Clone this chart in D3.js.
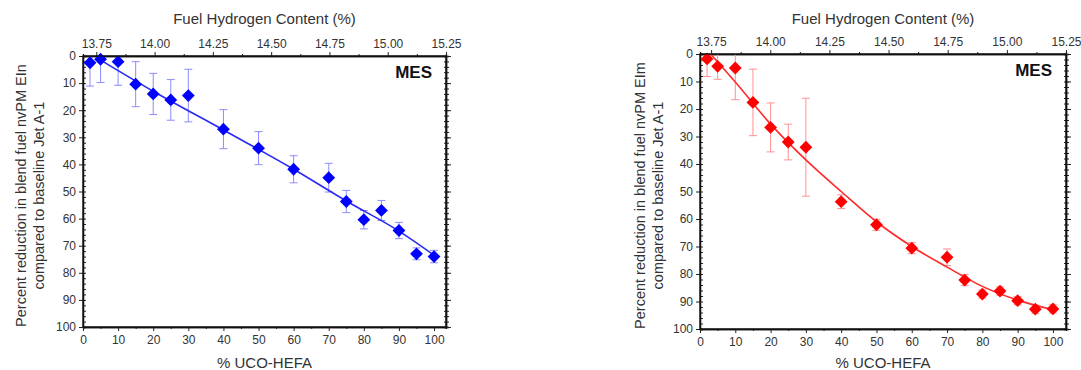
<!DOCTYPE html>
<html>
<head>
<meta charset="utf-8">
<script src="https://cdn.jsdelivr.net/npm/d3@7"></script>
<style>
  body { margin: 0; background: #fff; }
  svg text { font-family: "Liberation Sans", Arial, sans-serif; }
</style>
</head>
<body>
<div id="vis"></div>
<script>
// blend levels (% UCO-HEFA) shared by both panels
var blendPct = [2, 5, 10, 15, 20, 25, 30, 40, 50, 60, 70, 75, 80, 85, 90, 95, 100];

// left panel: number based EI (blue)
var einReduction = [2.5, 1.2, 2.1, 10.4, 14, 16.2, 14.6, 27, 34, 41.8, 44.9, 53.7, 60.4, 57, 64.4, 73, 74];
var einError = [8.6, 8.6, 8.7, 8.3, 7.6, 7.5, 9.7, 7.2, 6.1, 5, 5.3, 4.1, 3.4, 3.7, 3, 2.2, 2.3];
var einFitX = [5, 20, 40, 60, 75, 90, 100];
var einFitY = [1.5, 13, 27.3, 41.8, 53.5, 64.6, 73.5];

// right panel: mass based EI (red)
var emReduction = [1.8, 4.5, 5.1, 17.6, 26.7, 32, 33.9, 53.7, 62.1, 70.6, 73.9, 82.2, 87.3, 86.2, 89.7, 92.8, 92.7];
var emError = [6.4, 4.7, 11.5, 12.1, 8.9, 6.5, 17.8, 2.5, 2, 2, 3, 2, 1.5, 1.5, 1.5, 1.5, 1.5];
var emFitX = [3, 10, 20, 30, 40, 50, 60, 70, 80, 90, 100];
var emFitY = [0, 10.2, 25.5, 38.5, 50, 61, 70, 77.5, 84.5, 89.5, 93];

var xTicks = [0, 10, 20, 30, 40, 50, 60, 70, 80, 90, 100];
var yTicks = [0, 10, 20, 30, 40, 50, 60, 70, 80, 90, 100];
var hTicks = [13.75, 14.00, 14.25, 14.50, 14.75, 15.00, 15.25];

var panels = [
  {left: 83, right: 446, top: 56, bottom: 327, xMax: 103.4, hMin: 13.693,
   y: einReduction, err: einError, fitX: einFitX, fitY: einFitY,
   color: '#0000ff', lineColor: '#2a2af5', errColor: '#8c8cff',
   yTitle: ['Percent reduction in blend fuel nvPM EIn', 'compared to baseline Jet A-1'],
   titleX: [20, 38]},
  {left: 700, right: 1066, top: 54, bottom: 329, xMax: 103.7, hMin: 13.703,
   y: emReduction, err: emError, fitX: emFitX, fitY: emFitY,
   color: '#ff0000', lineColor: '#ff2a2a', errColor: '#ff9090',
   yTitle: ['Percent reduction in blend fuel nvPM EIm', 'compared to baseline Jet A-1'],
   titleX: [639, 657]}
];

var svg = d3.select('#vis').append('svg')
    .attr('width', 1081)
    .attr('height', 370);

panels.forEach(function(p, i) {
  var x = d3.scaleLinear().domain([0, p.xMax]).range([p.left, p.right]);
  var h = d3.scaleLinear().domain([p.hMin, 15.25]).range([p.left, p.right]);
  var y = d3.scaleLinear().domain([0, 100]).range([p.top, p.bottom]);

  var g = svg.append('g');

  g.append('clipPath').attr('id', 'clip' + i)
    .append('rect')
      .attr('x', p.left).attr('y', p.top)
      .attr('width', p.right - p.left).attr('height', p.bottom - p.top);

  // minor ticks
  g.append('g')
      .attr('transform', 'translate(' + p.left + ',0)')
      .call(d3.axisRight(y).ticks(50).tickSize(3).tickFormat(''));
  g.append('g')
      .attr('transform', 'translate(' + p.right + ',0)')
      .call(d3.axisRight(y).ticks(50).tickSize(3).tickFormat(''));
  g.append('g')
      .attr('transform', 'translate(' + p.right + ',0)')
      .call(d3.axisLeft(y).ticks(50).tickSize(2).tickFormat(''));
  g.append('g')
      .attr('transform', 'translate(0,' + p.bottom + ')')
      .call(d3.axisBottom(x).tickValues(d3.range(5, 101, 10)).tickSize(2).tickFormat(''));
  g.append('g')
      .attr('transform', 'translate(0,' + p.top + ')')
      .call(d3.axisTop(h).tickValues(d3.range(13.875, 15.2, 0.25)).tickSize(2).tickFormat(''));

  // major axes
  g.append('g')
      .attr('transform', 'translate(' + p.left + ',0)')
      .call(d3.axisLeft(y).tickValues(yTicks).tickSize(4).tickSizeOuter(0).tickPadding(3));
  g.append('g')
      .attr('transform', 'translate(0,' + p.bottom + ')')
      .call(d3.axisBottom(x).tickValues(xTicks).tickSize(4).tickSizeOuter(0).tickPadding(4));
  g.append('g')
      .attr('transform', 'translate(0,' + p.top + ')')
      .call(d3.axisTop(h).tickValues(hTicks).tickFormat(d3.format('.2f')).tickSize(4).tickSizeOuter(0).tickPadding(4));
  g.append('g')
      .attr('transform', 'translate(' + p.right + ',0)')
      .call(d3.axisRight(y).tickValues(yTicks).tickSize(5).tickSizeOuter(0).tickFormat(''));

  g.selectAll('.domain').attr('stroke', '#111').attr('stroke-width', 1.3);
  g.selectAll('.tick line').attr('stroke', '#222');
  g.selectAll('.tick text').attr('fill', '#333').attr('font-size', 12);

  // error bars
  var eb = g.append('g').attr('clip-path', 'url(#clip' + i + ')')
      .attr('stroke', p.errColor).attr('stroke-width', 1);
  blendPct.forEach(function(b, k) {
    var cx = x(b), lo = y(p.y[k] - p.err[k]), hi = y(p.y[k] + p.err[k]);
    eb.append('line').attr('x1', cx).attr('x2', cx).attr('y1', lo).attr('y2', hi);
    eb.append('line').attr('x1', cx - 4).attr('x2', cx + 4).attr('y1', lo).attr('y2', lo);
    eb.append('line').attr('x1', cx - 4).attr('x2', cx + 4).attr('y1', hi).attr('y2', hi);
  });

  // fit curve
  g.append('path')
      .datum(p.fitX.map(function(v, k) { return [v, p.fitY[k]]; }))
      .attr('fill', 'none')
      .attr('stroke', p.lineColor)
      .attr('stroke-width', 1.6)
      .attr('d', d3.line()
          .x(function(d) { return x(d[0]); })
          .y(function(d) { return y(d[1]); })
          .curve(d3.curveMonotoneX));

  // diamonds
  g.append('g').selectAll('path')
    .data(blendPct)
    .enter()
    .append('path')
      .attr('transform', function(d, k) {
        return 'translate(' + x(d) + ',' + y(p.y[k]) + ') rotate(45)';
      })
      .attr('d', d3.symbol().type(d3.symbolSquare).size(82))
      .attr('fill', p.color);

  // frame on top of everything
  g.append('rect')
      .attr('x', p.left).attr('y', p.top)
      .attr('width', p.right - p.left).attr('height', p.bottom - p.top)
      .attr('fill', 'none').attr('stroke', '#111').attr('stroke-width', 1.3);

  g.append('text')
      .attr('x', p.right - 14).attr('y', p.top + 22)
      .attr('text-anchor', 'end')
      .attr('font-size', 17).attr('font-weight', 'bold').attr('fill', '#111')
      .text('MES');

  g.append('text')
      .attr('x', (p.left + p.right) / 2).attr('y', 24)
      .attr('text-anchor', 'middle').attr('font-size', 15).attr('fill', '#333')
      .text('Fuel Hydrogen Content (%)');

  g.append('text')
      .attr('x', (p.left + p.right) / 2).attr('y', 368)
      .attr('text-anchor', 'middle').attr('font-size', 15).attr('fill', '#333')
      .text('% UCO-HEFA');

  p.yTitle.forEach(function(t, k) {
    var cy = (p.top + p.bottom) / 2 + 4;
    g.append('text')
        .attr('transform', 'translate(' + (p.titleX[k] + 5.5) + ',' + cy + ') rotate(-90)')
        .attr('text-anchor', 'middle').attr('font-size', 14.5).attr('fill', '#333')
        .text(t);
  });
});
</script>
</body>
</html>
